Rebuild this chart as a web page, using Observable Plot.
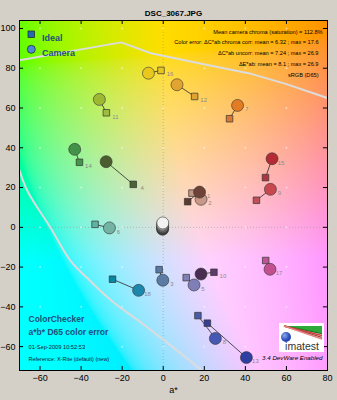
<!DOCTYPE html>
<html><head><meta charset="utf-8">
<script src="https://cdn.jsdelivr.net/npm/d3@7"></script>
<script src="https://cdn.jsdelivr.net/npm/@observablehq/plot@0.6"></script>
<style>
body{margin:0;background:#d4d0c8;}
#chart{width:337px;height:400px;}
</style></head><body><div id="chart"></div>
<script>
// ---- data ----
const patchIds = [1,2,3,4,5,6,7,8,9,10,11,12,13,14,15,16,17,18,19,20,21,22,23,24];
const idealA  = [11.9,14.0,-2.0,-14.6,11.2,-33.2,32.3,16.9,45.4,24.7,-27.7,15.3,21.5,-40.8,49.8,-1.1,49.9,-24.7,0,0,0,0,0,0];
const idealB  = [12.9,17.2,-21.3,21.6,-25.3,1.5,54.6,-44.4,13.6,-22.6,57.6,65.8,-48.2,32.7,25.0,78.9,-16.7,-26.1,0,0,0,0,0,0];
const cameraA = [17.7,18.4,-0.2,-27.8,15.0,-26.2,36.2,25.4,52.2,18.4,-31.1,6.7,40.5,-43.1,53.0,-7.2,52.0,-12.0,-0.2,-0.3,-0.3,-0.3,-0.3,-0.3];
const cameraB = [17.7,14.1,-26.6,33.0,-29.0,-0.3,61.3,-55.9,19.1,-23.5,64.3,71.7,-65.5,39.2,34.5,77.5,-21.1,-31.7,2.2,1.6,1.0,0.3,-0.3,-1.0];
const idealColors  = ["#5c3a2e","#c49484","#5a7aa6","#4a6234","#8080b4","#5fb3a6","#d87833","#4a5ca8","#c05058","#5e3c6c","#9dbc40","#e0a32e","#383d96","#469449","#af3640","#e7c71f","#bb5695","#0885a1","#f3f3f2","#c8c8c8","#a0a0a0","#7a7a79","#555555","#343434"];
const cameraColors = ["#6e4236","#c99888","#5b7ba5","#4b5d2f","#7e7fb7","#74b2a4","#e37b22","#4558b3","#c8484f","#4a2e52","#9fb833","#e1a430","#2f3ea0","#44924a","#b42a35","#e9c81e","#c2508e","#1c86ab","#f2f2f2","#c8c8c8","#a0a0a0","#7a7a7a","#555555","#343434"];
const xTicks = [-60,-40,-20,0,20,40,60,80];
const yTicks = [-60,-40,-20,0,20,40,60,80,100];
const xDomain = [-70, 80];
const yDomain = [-72, 104];
const upperGamutA = [-70,-20.5,-6,18,42,60,80];
const upperGamutB = [84,93,87.5,82.4,77.4,72,65];
const lowerGamutA = [-70,-66,-55,-45,-35,-25,-10,5,19];
const lowerGamutB = [28.6,18,0,-17,-27.5,-37,-48.5,-60.5,-72];
const titleText = "DSC_3067.JPG";
const statFirst = "Mean camera chroma (saturation) = 112.8%";
const statLines = ["Color error: \u0394C*ab chroma corr: mean = 6.32 ; max = 17.6",
  "\u0394C*ab uncorr: mean = 7.24 ; max = 26.9",
  "\u0394E*ab: mean = 8.1 ; max = 26.9",
  "sRGB (D65)"];
const noteBig = ["ColorChecker", "a*b* D65 color error"];
const noteSmall = ["01-Sep-2009 10:52:53", "Reference: X-Rite (default) (new)"];
const legendLabels = ["Ideal", "Camera"];

// ---- derived tables ----
const rows = patchIds.map((id, i) => ({
  id, ia: idealA[i], ib: idealB[i], ca: cameraA[i], cb: cameraB[i],
  ic: idealColors[i], cc: cameraColors[i]
}));
const drawRows = rows.slice().reverse();
const labelRows = rows.filter(r => r.id <= 18).map(r => r.ia > r.ca
  ? {id: r.id, a: r.ia, b: r.ib} : {id: r.id, a: r.ca, b: r.cb});
const upper = upperGamutA.map((a, i) => ({a, b: upperGamutB[i]}));
const lower = lowerGamutA.map((a, i) => ({a, b: lowerGamutB[i]}));
const gridPts = xTicks.flatMap(a => yTicks.map(b => ({a, b})));

const bgColor = (a, b) => d3.lab(89, a, b).formatHex();

const textColor = "#1f4f7a";

function legendAndLogo(index, scales, values, dims) {
  const g = d3.create("svg:g");
  const L = dims.marginLeft, T = dims.marginTop;
  const R = dims.width - dims.marginRight, B = dims.height - dims.marginBottom;
  // legend symbols
  g.append("rect").attr("x", L + 9).attr("y", T + 11).attr("width", 6.5).attr("height", 6.5)
    .attr("fill", "#1f6db0").attr("stroke", "#222").attr("stroke-width", 0.7);
  g.append("circle").attr("cx", L + 12.3).attr("cy", T + 29.3).attr("r", 4)
    .attr("fill", "#4a8ad8").attr("stroke", "#222").attr("stroke-width", 0.7);
  // imatest logo
  const x0 = R - 48, y0 = B - 47, w = 45, h = 29;
  g.append("rect").attr("x", x0).attr("y", y0).attr("width", w).attr("height", h).attr("fill", "#fff");
  g.append("path").attr("d", `M${x0+5},${y0+3}L${x0+43},${y0+3}L${x0+43},${y0+10}Z`).attr("fill", "#2eaa3a");
  const strokes = [["#1f7a2a", 10.5], ["#d83c3c", 12.5], ["#a04a40", 14.3], ["#e88080", 16]];
  for (const [c, yy] of strokes) {
    g.append("path").attr("d", `M${x0+5},${y0+3}L${x0+43},${y0+yy}`).attr("stroke", c).attr("stroke-width", 1.4).attr("fill", "none");
  }
  const grad = g.append("defs").append("radialGradient").attr("id", "lg").attr("cx", "35%").attr("cy", "35%");
  grad.append("stop").attr("offset", "0%").attr("stop-color", "#8aa8f0");
  grad.append("stop").attr("offset", "100%").attr("stop-color", "#2848b8");
  g.append("circle").attr("cx", x0 + 7).attr("cy", y0 + 14).attr("r", 5).attr("fill", "url(#lg)");
  g.append("text").attr("x", x0 + 23).attr("y", y0 + 27).attr("text-anchor", "middle")
    .attr("font-size", 10.5).attr("fill", "#333").attr("font-family", "Liberation Sans, Arial, sans-serif").text("imatest");
  return g.node();
}

const plot = Plot.plot({
  width: 337, height: 400,
  marginTop: 20, marginBottom: 30, marginLeft: 19, marginRight: 10,
  style: {fontFamily: "Liberation Sans, Arial, sans-serif", fontSize: "9px", background: "#d4d0c8", color: "#000", overflow: "visible"},
  x: {domain: xDomain, axis: null},
  y: {domain: yDomain, axis: null},
  color: {type: "identity"},
  marks: [
    Plot.raster({x1: xDomain[0], x2: xDomain[1], y1: yDomain[0], y2: yDomain[1], fill: bgColor, pixelSize: 1}),
    Plot.ruleX([0], {stroke: "#9a9a9a", strokeOpacity: 0.6, strokeDasharray: "1,2"}),
    Plot.ruleY([0], {stroke: "#9a9a9a", strokeOpacity: 0.6, strokeDasharray: "1,2"}),
    Plot.dot(gridPts, {x: "a", y: "b", r: 1, fill: "#fff", fillOpacity: 0.5}),
    Plot.line(upper, {x: "a", y: "b", stroke: "#dcdcdc", strokeWidth: 2, clip: true}),
    Plot.line(lower, {x: "a", y: "b", stroke: "#dcdcdc", strokeWidth: 2, curve: "catmull-rom", clip: true}),
    Plot.link(drawRows, {x1: "ia", y1: "ib", x2: "ca", y2: "cb", stroke: "#2a2a2a", strokeWidth: 0.8}),
    Plot.dot(drawRows, {x: "ia", y: "ib", symbol: "square", r: 3.7, fill: "ic", stroke: "#333", strokeWidth: 0.7}),
    Plot.dot(drawRows, {x: "ca", y: "cb", r: 6, fill: "cc", stroke: "#333", strokeWidth: 0.7, strokeOpacity: 0.85}),
    Plot.text(labelRows, {x: "a", y: "b", text: "id", dx: 9, dy: 4, fill: "#8a8a8a", fontSize: 6}),
    // inward ticks on four sides
    Plot.ruleX(xTicks, {y1: yDomain[0], y2: yDomain[0] + 2, stroke: "#000"}),
    Plot.ruleX(xTicks, {y1: yDomain[1], y2: yDomain[1] - 2, stroke: "#000"}),
    Plot.ruleY(yTicks, {x1: xDomain[0], x2: xDomain[0] + 2, stroke: "#000"}),
    Plot.ruleY(yTicks, {x1: xDomain[1], x2: xDomain[1] - 2, stroke: "#000"}),
    Plot.frame({stroke: "#000", strokeWidth: 1}),
    Plot.axisX(xTicks, {tickSize: 0, tickPadding: 4, fontSize: 9, label: null}),
    Plot.axisY(yTicks, {tickSize: 0, tickPadding: 4, fontSize: 9, label: null}),
    Plot.text([titleText], {text: d => d, frameAnchor: "top", dy: -10, fontWeight: "bold", fontSize: 8}),
    Plot.text(["a*"], {text: d => d, frameAnchor: "bottom", dy: 22, fontSize: 9}),
    Plot.text([statFirst], {text: d => d, frameAnchor: "top-right", dx: -5, dy: 10, textAnchor: "end", fontSize: 5.6}),
    Plot.text([statLines.join("\n")], {text: d => d, frameAnchor: "top-right", dx: -9, dy: 16, textAnchor: "end", lineAnchor: "top", lineHeight: 1.93, fontSize: 5.6}),
    Plot.text([legendLabels[0]], {text: d => d, frameAnchor: "top-left", dx: 22.5, dy: 14.3, textAnchor: "start", fontWeight: "bold", fontSize: 9, fill: textColor}),
    Plot.text([legendLabels[1]], {text: d => d, frameAnchor: "top-left", dx: 22.5, dy: 29.3, textAnchor: "start", fontWeight: "bold", fontSize: 9, fill: textColor}),
    Plot.text([noteBig[0]], {text: d => d, frameAnchor: "bottom-left", dx: 9, dy: -49, textAnchor: "start", fontWeight: "bold", fontSize: 8.5, fill: textColor}),
    Plot.text([noteBig[1]], {text: d => d, frameAnchor: "bottom-left", dx: 9, dy: -35.5, textAnchor: "start", fontWeight: "bold", fontSize: 8.5, fill: textColor}),
    Plot.text([noteSmall[0]], {text: d => d, frameAnchor: "bottom-left", dx: 9, dy: -22, textAnchor: "start", fontSize: 5.7, fill: "#10203a"}),
    Plot.text([noteSmall[1]], {text: d => d, frameAnchor: "bottom-left", dx: 9, dy: -10, textAnchor: "start", fontSize: 5.5, fill: "#10203a"}),
    legendAndLogo,
    Plot.text(["3.4 DevWare Enabled"], {text: d => d, frameAnchor: "bottom-right", dx: -5, dy: -11, textAnchor: "end", fontStyle: "italic", fontSize: 6.2})
  ]
});
document.getElementById("chart").appendChild(plot);
</script>
</body></html>
